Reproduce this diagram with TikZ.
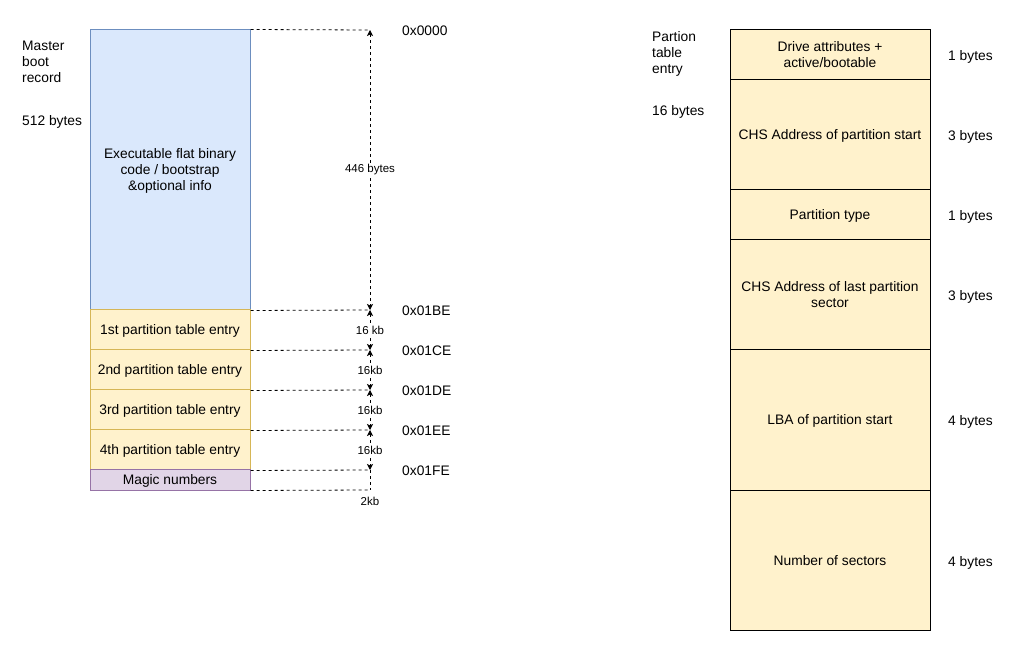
\documentclass[tikz,border=0pt]{standalone}
\usepackage{fontspec}
\setmainfont{Liberation Sans}
\usetikzlibrary{arrows.meta}
\definecolor{bluefill}{HTML}{DAE8FC}
\definecolor{bluedraw}{HTML}{6C8EBF}
\definecolor{yelfill}{HTML}{FFF2CC}
\definecolor{yeldraw}{HTML}{D6B656}
\definecolor{purfill}{HTML}{E1D5E7}
\definecolor{purdraw}{HTML}{9673A6}
\begin{document}
\begin{tikzpicture}[x=1pt,y=-1pt,
  txt/.style={font=\fontsize{13.8}{16}\selectfont, inner sep=0pt, text depth=0pt, align=center},
  smalllbl/.style={font=\fontsize{11.5}{13}\selectfont, inner sep=1pt, fill=white},
  cell/.style={txt, draw, line width=1pt, minimum width=160pt},
  bluecell/.style={cell, fill=bluefill, draw=bluedraw},
  yelcell/.style={cell, fill=yelfill, draw=yeldraw, minimum height=40pt},
  purcell/.style={cell, fill=purfill, draw=purdraw, minimum height=20pt},
  entrycell/.style={txt, draw=black, fill=yelfill, line width=1pt, minimum width=200pt},
  guide/.style={line width=0.8pt, dash pattern=on 3pt off 3pt},
  dimarrow/.style={guide, {Stealth[length=6pt,width=6pt,inset=1.5pt]}-{Stealth[length=6pt,width=6pt,inset=1.5pt]}},
  side/.style={txt, anchor=west, align=left}
]
\useasboundingbox (0,0) rectangle (1021,652);

% left labels
\node[side, anchor=north west] (mbr) at (22,41) {Master\\boot\\record};
\node[side] (mbrsize) at (22,121) {512 bytes};

% MBR layout
\node[bluecell, minimum height=280pt] (code) at (170,170) {Executable flat binary\\code / bootstrap\\\&optional info};
\node[yelcell] (p1) at (170,330) {1st partition table entry};
\node[yelcell] (p2) at (170,370) {2nd partition table entry};
\node[yelcell] (p3) at (170,410) {3rd partition table entry};
\node[yelcell] (p4) at (170,450) {4th partition table entry};
\node[purcell] (magic) at (170,480) {Magic numbers};

% guide coordinates
\coordinate (t0) at (370,30);
\coordinate (t1) at (370,310);
\coordinate (t2) at (370,350);
\coordinate (t3) at (370,390);
\coordinate (t4) at (370,430);
\coordinate (t5) at (370,470);
\coordinate (t6) at (370,490);

\draw[guide] (code.north east) -- (t0);
\draw[guide] (code.south east) -- (t1);
\draw[guide] (p1.south east) -- (t2);
\draw[guide] (p2.south east) -- (t3);
\draw[guide] (p3.south east) -- (t4);
\draw[guide] (p4.south east) -- (t5);
\draw[guide] (magic.south east) -- (t6);

\draw[dimarrow] (t0) -- node[smalllbl] (s0) {446 bytes} (t1);
\draw[dimarrow] (t1) -- node[smalllbl] (s1) {16 kb} (t2);
\draw[dimarrow] (t2) -- node[smalllbl] (s2) {16kb} (t3);
\draw[dimarrow] (t3) -- node[smalllbl] (s3) {16kb} (t4);
\draw[dimarrow] (t4) -- node[smalllbl] (s4) {16kb} (t5);
\draw[guide] (t5) -- (t6);
\node[smalllbl, fill=none] (s5) at (370,501) {2kb};

% hex offsets
\node[side] (h0) at (402,31) {0x0000};
\node[side] (h1) at (402,311) {0x01BE};
\node[side] (h2) at (402,351) {0x01CE};
\node[side] (h3) at (402,391) {0x01DE};
\node[side] (h4) at (402,431) {0x01EE};
\node[side] (h5) at (402,471) {0x01FE};

% partition table entry
\node[side, anchor=north west] (pte) at (652,31) {Partion\\table\\entry};
\node[side] (ptesize) at (652,111) {16 bytes};

\node[entrycell, minimum height=50pt] (e1) at (830,55) {Drive attributes +\\active/bootable};
\node[entrycell, minimum height=110pt] (e2) at (830,135) {CHS Address of partition start};
\node[entrycell, minimum height=50pt] (e3) at (830,215) {Partition type};
\node[entrycell, minimum height=110pt] (e4) at (830,295) {CHS Address of last partition\\sector};
\node[entrycell, minimum height=140pt] (e5) at (830,420) {LBA of partition start};
\node[entrycell, minimum height=140pt] (e6) at (830,560) {Number of sectors};

\node[side] (b1) at (948,56) {1 bytes};
\node[side] (b2) at (948,136) {3 bytes};
\node[side] (b3) at (948,216) {1 bytes};
\node[side] (b4) at (948,296) {3 bytes};
\node[side] (b5) at (948,421) {4 bytes};
\node[side] (b6) at (948,561) {4 bytes};
\end{tikzpicture}
\end{document}
